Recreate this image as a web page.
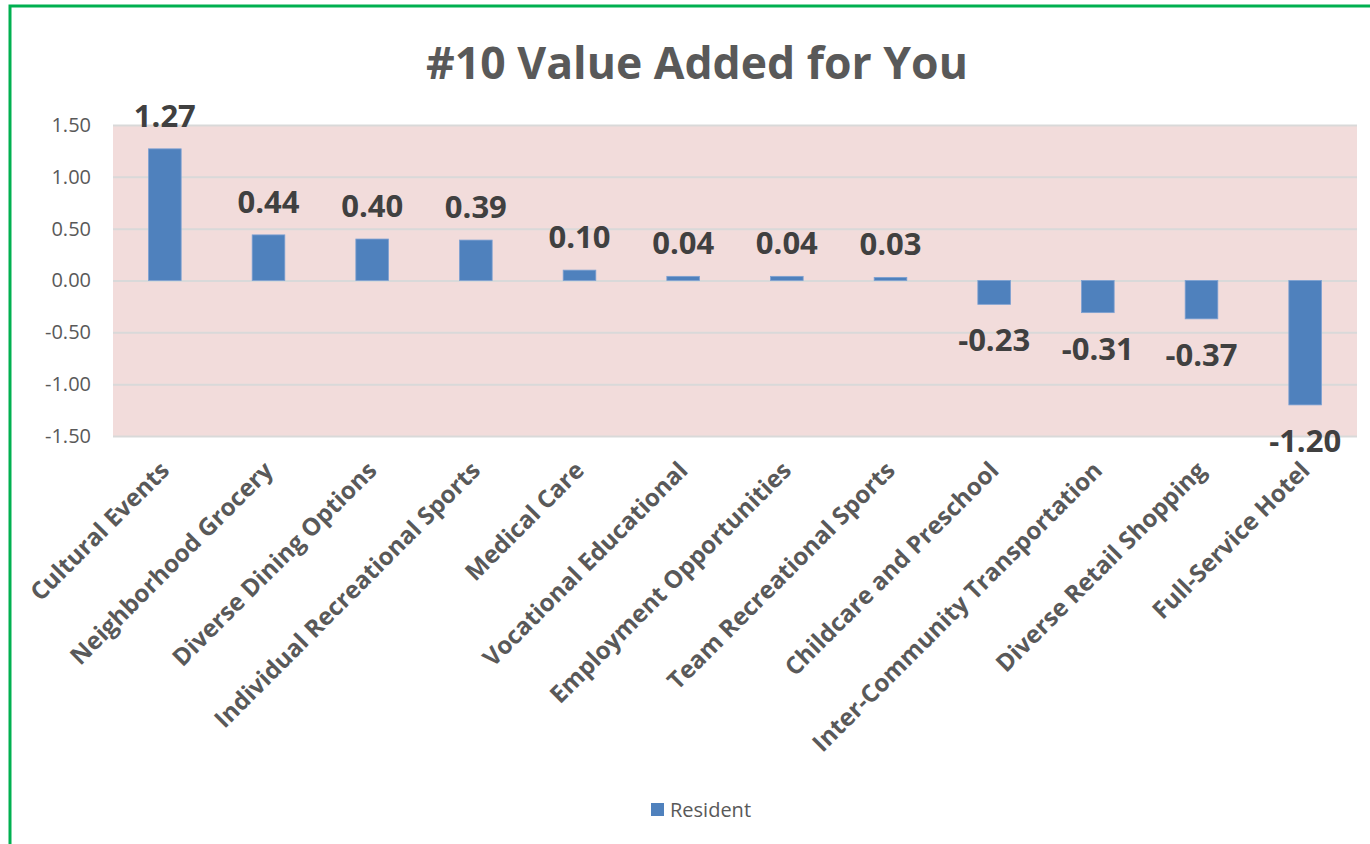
<!DOCTYPE html>
<html>
<head>
<meta charset="utf-8">
<script src="https://cdn.jsdelivr.net/npm/d3@7"></script>
<style>
  body { margin: 0; background: #fff; }
  svg { display: block; font-family: "Open Sans", sans-serif; }
</style>
</head>
<body>
<div id="chart"></div>
<script>
// Chart data
const categories = [
  "Cultural Events",
  "Neighborhood Grocery",
  "Diverse Dining Options",
  "Individual Recreational Sports",
  "Medical Care",
  "Vocational Educational",
  "Employment Opportunities",
  "Team Recreational Sports",
  "Childcare and Preschool",
  "Inter-Community Transportation",
  "Diverse Retail Shopping",
  "Full-Service Hotel",
];
const residentValues = [1.27, 0.44, 0.4, 0.39, 0.1, 0.04, 0.04, 0.03, -0.23, -0.31, -0.37, -1.2];
const yTicks = [-1.5, -1.0, -0.5, 0, 0.5, 1.0, 1.5];
const seriesName = "Resident";
const chartTitle = "#10 Value Added for You";

function createBarChart(width, height) {
  // Plot area margins
  const marginTop = 125;
  const marginRight = 13;
  const marginBottom = 408;
  const marginLeft = 113;

  // Excel-style number text (hyphen minus, two decimals)
  const fmt = (d) => d.toFixed(2);

  const svg = d3
    .create("svg")
    .attr("width", width)
    .attr("height", height)
    .attr("viewBox", [0, 0, width, height]);

  // Green frame round the chart
  svg
    .append("rect")
    .attr("x", 10)
    .attr("y", 6)
    .attr("width", width + 20)
    .attr("height", height + 20)
    .attr("fill", "none")
    .attr("stroke", "#00B050")
    .attr("stroke-width", 3);

  const x = d3
    .scaleBand()
    .domain(categories)
    .range([marginLeft, width - marginRight])
    .paddingInner(0)
    .paddingOuter(0);

  const y = d3
    .scaleLinear()
    .domain([-1.5, 1.5])
    .range([height - marginBottom, marginTop]);

  // Pink plot background
  svg
    .append("rect")
    .attr("x", marginLeft)
    .attr("y", marginTop)
    .attr("width", width - marginLeft - marginRight)
    .attr("height", height - marginTop - marginBottom)
    .attr("fill", "#F2DCDB");

  // Y axis with gridlines
  svg
    .append("g")
    .attr("transform", `translate(${marginLeft},0)`)
    .call(
      d3
        .axisLeft(y)
        .tickValues(yTicks)
        .tickFormat(fmt)
        .tickSize(0)
        .tickPadding(22),
    )
    .call((g) => g.select(".domain").remove())
    .call((g) =>
      g
        .selectAll(".tick text")
        .attr("fill", "#595959")
        .attr("font-size", "20px")
        .attr("font-family", "Open Sans, sans-serif"),
    )
    .call((g) =>
      g
        .selectAll(".tick line")
        .clone()
        .attr("x2", width - marginLeft - marginRight)
        .attr("stroke", "#D9D9D9")
        .attr("stroke-width", 2),
    );

  const bw = x.bandwidth() * 0.315;

  // Bars
  svg
    .append("g")
    .selectAll("rect")
    .data(residentValues)
    .join("rect")
    .attr("x", (d, i) => x(categories[i]) + x.bandwidth() / 2 - bw / 2)
    .attr("y", (d) => y(Math.max(0, d)))
    .attr("width", bw)
    .attr("height", (d) => Math.abs(y(d) - y(0)))
    .attr("fill", "#4F81BD")
    .attr("stroke", "#7EA1D2")
    .attr("stroke-width", 0.8);

  // Value labels
  svg
    .append("g")
    .selectAll("text")
    .data(residentValues)
    .join("text")
    .attr("x", (d, i) => x(categories[i]) + x.bandwidth() / 2)
    .attr("y", (d) => (d >= 0 ? y(d) - 22 : y(d) + 47))
    .attr("text-anchor", "middle")
    .attr("font-size", "31px")
    .attr("font-weight", "bold")
    .attr("fill", "#404040")
    .text(fmt);

  // Category labels, rotated
  svg
    .append("g")
    .selectAll("text")
    .data(categories)
    .join("text")
    .attr(
      "transform",
      (d) => `translate(${x(d) + x.bandwidth() / 2 + 6},${height - marginBottom + 36}) rotate(-45)`,
    )
    .attr("text-anchor", "end")
    .attr("font-size", "24.2px")
    .attr("font-weight", "bold")
    .attr("fill", "#595959")
    .text((d) => d);

  // Title
  svg
    .append("text")
    .attr("x", 697)
    .attr("y", 79)
    .attr("text-anchor", "middle")
    .attr("font-size", "44.5px")
    .attr("font-weight", "bold")
    .attr("fill", "#595959")
    .text(chartTitle);

  // Legend
  const legend = svg.append("g").attr("transform", "translate(651,803)");
  legend
    .append("rect")
    .attr("width", 13)
    .attr("height", 13)
    .attr("fill", "#4F81BD");
  legend
    .append("text")
    .attr("x", 19)
    .attr("y", 14)
    .attr("font-size", "20px")
    .attr("fill", "#595959")
    .text(seriesName);

  return svg.node();
}

document.getElementById("chart").appendChild(createBarChart(1370, 844));
</script>
</body>
</html>
